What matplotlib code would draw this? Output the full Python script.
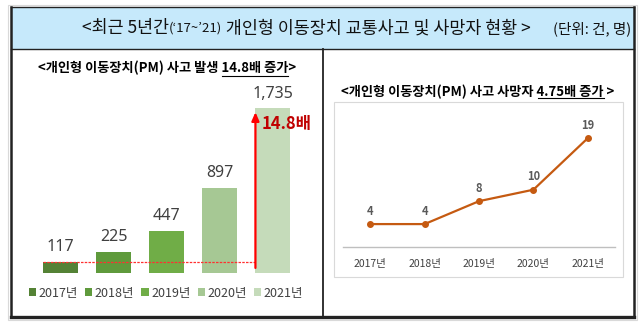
import matplotlib
matplotlib.use("Agg")
import matplotlib.pyplot as plt
from matplotlib.patches import Rectangle

plt.rcParams['font.family'] = ['Noto Sans CJK KR', 'DejaVu Sans']

# data
years = ['2017년', '2018년', '2019년', '2020년', '2021년']
accidents = [117, 225, 447, 897, 1735]
deaths = [4, 4, 8, 10, 19]
bar_colors = ['#548235', '#5f9a3c', '#70ad47', '#a6c894', '#c5dbba']

W, H = 644, 326
fig = plt.figure(figsize=(W / 100, H / 100), dpi=100)

def box(l, t, r, b):
    return [l / W, 1 - b / H, (r - l) / W, (b - t) / H]

# background / frame drawn in pixel coordinates
bg = fig.add_axes([0, 0, 1, 1])
bg.set_xlim(0, W)
bg.set_ylim(H, 0)
bg.axis('off')
bg.add_patch(Rectangle((8.5, 4.5), 628.5, 315, fill=False, ec='#d9d9d9', lw=0.8))
bg.add_patch(Rectangle((11.5, 7), 623, 42, fc='#c6e9fb', ec='none'))
bg.plot([11.5, 634.5], [7, 7], color='#222222', lw=1.0)
bg.plot([11.5, 634.5], [49, 49], color='#222222', lw=1.0)
bg.plot([11.5, 11.5], [7, 317], color='#222222', lw=1.8)
bg.plot([634.5, 634.5], [7, 317], color='#222222', lw=1.8)
bg.plot([11.5, 634.5], [316.5, 316.5], color='#222222', lw=2.4)
bg.plot([323, 323], [49, 316.5], color='#222222', lw=1.3)
bg.add_patch(Rectangle((334, 102), 289, 175, fill=False, ec='#d9d9d9', lw=0.8))

fig.canvas.draw()
rend = fig.canvas.get_renderer()

def width_px(s, size, weight='normal'):
    t = bg.text(0, 0, s, fontsize=size, fontweight=weight)
    w = t.get_window_extent(rend).width
    t.remove()
    return w

# header, drawn in pieces
x = 82
for s, sz in [('<최근 5년간', 12.5), ('(‘17~’21)', 9.5), (' 개인형 이동장치 교통사고 및 사망자 현황 >', 12.5)]:
    bg.text(x, 28.5, s, fontsize=sz, va='center', ha='left', color='#111111')
    x += width_px(s, sz)
bg.text(631, 28.5, '(단위: 건, 명)', fontsize=10.5, va='center', ha='right', color='#111111')

# sub titles with underlined part
def title(cx, cy, pre, und, post, uy):
    full = pre + und + post
    total = width_px(full, 9.5, 'bold')
    left = cx - total / 2
    bg.text(left, cy, full, fontsize=9.5, fontweight='bold', va='center', ha='left', color='#000000')
    u0 = left + width_px(pre, 9.5, 'bold')
    u1 = u0 + width_px(und, 9.5, 'bold')
    bg.plot([u0 + 1, u1], [uy, uy], color='#000000', lw=0.8)

title(167, 68, '<개인형 이동장치(PM) 사고 발생 ', '14.8배 증가', '>', 75.5)
title(478, 92, '<개인형 이동장치(PM) 사고 사망자 ', '4.75배 증가', ' >', 98)

# left: bar chart
ax1 = fig.add_axes(box(34, 83, 299.5, 273))
xs = range(len(years))
bars = ax1.bar(xs, accidents, width=0.66, color=bar_colors, label=years)
ax1.set_xlim(-0.5, 4.5)
ax1.set_ylim(0, 2000)
ax1.axis('off')
for i, v in enumerate(accidents):
    ax1.text(i, v + 70, f'{v:,}', ha='center', va='bottom', fontsize=11.5,
             color='#404040', family=['Noto Sans', 'DejaVu Sans'])
ax1.plot([-0.33, 3.67], [accidents[0], accidents[0]], color='#ff3030', lw=0.9, ls=(0, (2, 1)))
ax1.annotate('', xy=(3.67, 1722), xytext=(3.67, 24),
             arrowprops=dict(arrowstyle='-|>,head_length=0.5,head_width=0.22', color='#ff0000', lw=1.6))
ax1.text(3.79, 1565, '14.8배', color='#c00000', fontsize=12, fontweight='bold', va='center', ha='left')
ax1.legend(bars, years, loc='center', bbox_to_anchor=(166 / W, 1 - 293 / H),
           bbox_transform=fig.transFigure, ncol=5, frameon=False, fontsize=9,
           handlelength=0.6, handleheight=0.6, handletextpad=0.2, columnspacing=0.55,
           labelcolor='#404040')

# right: line chart
ax2 = fig.add_axes(box(343, 109.5, 615, 247))
ax2.plot(xs, deaths, color='#c55a11', lw=1.6, marker='o', ms=4)
ax2.set_xlim(-0.5, 4.5)
ax2.set_ylim(0, 24)
for sp in ['top', 'right', 'left']:
    ax2.spines[sp].set_visible(False)
ax2.spines['bottom'].set_color('#bfbfbf')
ax2.spines['bottom'].set_linewidth(1.0)
ax2.set_yticks([])
ax2.set_xticks(list(xs))
ax2.set_xticklabels(years, fontsize=7.5, color='#404040')
ax2.tick_params(axis='x', length=0, pad=9)
for i, v in enumerate(deaths):
    ax2.text(i, v + 1.1, str(v), ha='center', va='bottom', fontsize=8, fontweight='bold',
             color='#595959')

fig.savefig('out.png', dpi=100)
